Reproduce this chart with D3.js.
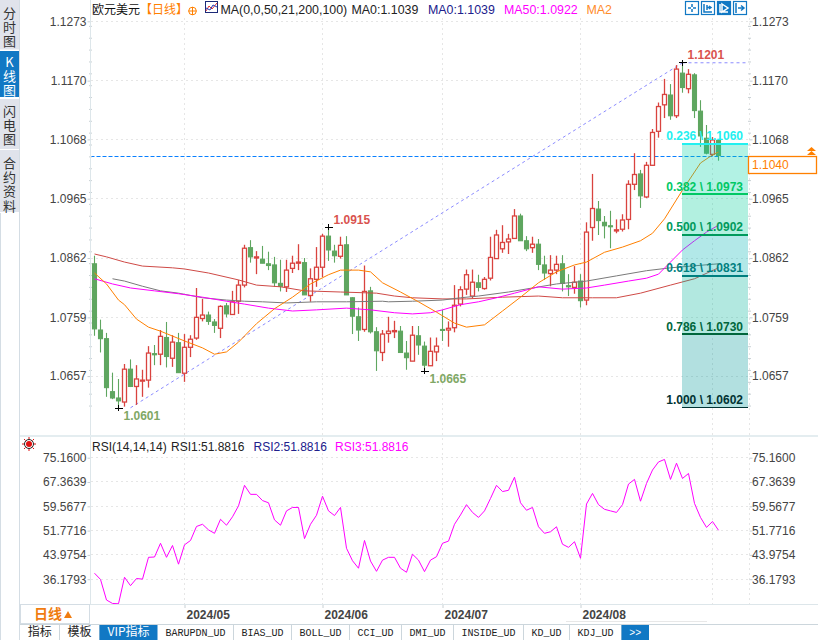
<!DOCTYPE html>
<html>
<head>
<meta charset="utf-8">
<script src="https://cdn.jsdelivr.net/npm/d3@7"></script>
<style>
html, body { margin: 0; padding: 0; background: #fff; }
svg { display: block; }
text { font-family: "Liberation Sans", Arial, sans-serif; font-size: 12px; }
.cjk { font-family: "Noto Sans CJK SC", sans-serif; }
.mono { font-family: "Liberation Mono", monospace; font-size: 10px; }
.side { writing-mode: vertical-rl; text-orientation: upright; letter-spacing: 1.2px; font-size: 13px; }
.axis path { display: none; }
.axis line { stroke: #c8d0d4; }
.axis text { fill: #444; font-size: 12px; }
</style>
</head>
<body>
<svg id="chart" width="818" height="640"></svg>
<script>
const opens = [1.0852,1.0737,1.0722,1.0630,1.0619,1.0612,1.0669,1.0639,1.0649,1.0650,1.0696,1.0695,1.0724,1.0688,1.0715,1.0662,1.0707,1.0723,1.0757,1.0763,1.0751,1.0740,1.0779,1.0764,1.0787,1.0815,1.0880,1.0862,1.0860,1.0852,1.0850,1.0818,1.0812,1.0844,1.0853,1.0854,1.0797,1.0825,1.0846,1.0900,1.0874,1.0865,1.0885,1.0793,1.0760,1.0738,1.0805,1.0734,1.0698,1.0731,1.0734,1.0735,1.0697,1.0683,1.0727,1.0709,1.0675,1.0699,1.0738,1.0737,1.0741,1.0782,1.0808,1.0796,1.0819,1.0809,1.0827,1.0861,1.0878,1.0890,1.0896,1.0935,1.0892,1.0880,1.0886,1.0850,1.0835,1.0841,1.0852,1.0814,1.0811,1.0822,1.0789,1.0915,1.0947,1.0924,1.0918,1.0909,1.0912,1.0929,1.0990,1.1008,1.0968,1.1023,1.1082,1.1128,1.1145,1.1109,1.1183,1.1156,1.1180,1.1117,1.1070,1.1042,1.1066];
const closes = [1.0739,1.0722,1.0637,1.0619,1.0614,1.0669,1.0639,1.0652,1.0650,1.0697,1.0694,1.0726,1.0691,1.0716,1.0663,1.0707,1.0721,1.0759,1.0763,1.0752,1.0745,1.0778,1.0765,1.0786,1.0815,1.0879,1.0864,1.0864,1.0853,1.0849,1.0819,1.0813,1.0841,1.0853,1.0855,1.0798,1.0826,1.0846,1.0900,1.0876,1.0866,1.0884,1.0798,1.0761,1.0737,1.0804,1.0734,1.0701,1.0730,1.0735,1.0736,1.0698,1.0689,1.0728,1.0711,1.0676,1.0700,1.0709,1.0737,1.0740,1.0780,1.0807,1.0833,1.0820,1.0811,1.0825,1.0863,1.0902,1.0889,1.0895,1.0935,1.0892,1.0878,1.0886,1.0851,1.0836,1.0841,1.0851,1.0818,1.0812,1.0820,1.0788,1.0907,1.0948,1.0927,1.0918,1.0917,1.0911,1.0928,1.0990,1.1007,1.0970,1.1023,1.1080,1.1125,1.1146,1.1109,1.1190,1.1158,1.1181,1.1118,1.1074,1.1044,1.1067,1.1040];
const highs = [1.0866,1.0755,1.0732,1.0663,1.0652,1.0678,1.0686,1.0676,1.0668,1.0709,1.0711,1.0737,1.0751,1.0728,1.0732,1.0730,1.0728,1.0810,1.0791,1.0769,1.0756,1.0780,1.0784,1.0805,1.0824,1.0885,1.0893,1.0874,1.0883,1.0873,1.0864,1.0859,1.0859,1.0866,1.0886,1.0862,1.0844,1.0881,1.0904,1.0915,1.0885,1.0899,1.0900,1.0794,1.0776,1.0849,1.0812,1.0742,1.0737,1.0760,1.0753,1.0744,1.0718,1.0744,1.0744,1.0717,1.0724,1.0724,1.0772,1.0752,1.0815,1.0813,1.0842,1.0842,1.0833,1.0829,1.0899,1.0911,1.0919,1.0904,1.0947,1.0939,1.0900,1.0899,1.0895,1.0866,1.0867,1.0866,1.0867,1.0834,1.0848,1.0834,1.0924,1.1008,1.0961,1.0935,1.0944,1.0929,1.0938,1.0997,1.1044,1.1015,1.1029,1.1086,1.1132,1.1173,1.1164,1.1197,1.1201,1.1190,1.1183,1.1136,1.1093,1.1072,1.1068];
const lows = [1.0727,1.0698,1.0621,1.0617,1.0601,1.0604,1.0638,1.0607,1.0621,1.0637,1.0676,1.0676,1.0672,1.0673,1.0663,1.0647,1.0690,1.0720,1.0752,1.0746,1.0732,1.0723,1.0759,1.0764,1.0765,1.0811,1.0854,1.0834,1.0853,1.0841,1.0812,1.0804,1.0803,1.0836,1.0841,1.0798,1.0786,1.0812,1.0829,1.0857,1.0854,1.0861,1.0798,1.0730,1.0718,1.0734,1.0731,1.0666,1.0683,1.0715,1.0723,1.0698,1.0668,1.0683,1.0694,1.0665,1.0675,1.0683,1.0718,1.0708,1.0733,1.0778,1.0798,1.0792,1.0804,1.0807,1.0823,1.0861,1.0871,1.0869,1.0895,1.0892,1.0874,1.0871,1.0841,1.0824,1.0813,1.0834,1.0804,1.0796,1.0800,1.0776,1.0780,1.0892,1.0902,1.0896,1.0879,1.0905,1.0908,1.0912,1.0980,1.0949,1.0966,1.1022,1.1071,1.1105,1.1102,1.1105,1.1149,1.1148,1.1105,1.1055,1.1042,1.1039,1.1031];

// moving averages, read at the candles listed in the *Days arrays
const ma21Days = [0,2,4,5,7,9,11,15,18,20,22,24,27,30,33,36,39,41,44,46,48,51,54,57,60,62,65,68,71,74,77,80,82,85,88,91,93,95,98,101,103,104];
const ma21 = [1.0836,1.0817,1.0789,1.0781,1.0756,1.0742,1.0735,1.0718,1.0706,1.0695,1.0699,1.0716,1.0748,1.0774,1.0794,1.0817,1.0833,1.0841,1.0841,1.0838,1.0819,1.0803,1.0786,1.0768,1.0749,1.0742,1.0746,1.0770,1.0794,1.0819,1.0838,1.0850,1.0855,1.0872,1.0881,1.0892,1.0905,1.0930,1.0980,1.1027,1.1041,1.1046];
const ma50Days = [0,3,6,10,14,18,22,25,29,33,37,42,46,50,53,56,58,61,64,67,70,74,78,82,85,89,92,94,96,98,100,102,104];
const ma50 = [1.0826,1.0817,1.0810,1.0805,1.0800,1.0794,1.0787,1.0782,1.0775,1.0770,1.0772,1.0775,1.0772,1.0767,1.0765,1.0767,1.0772,1.0781,1.0786,1.0793,1.0801,1.0812,1.0808,1.0810,1.0815,1.0822,1.0827,1.0834,1.0855,1.0876,1.0892,1.0907,1.0919];
const ma100Days = [3,5,8,11,14,18,22,25,28,32,37,42,48,49,53,58,61,64,69,73,77,82,87,92,96,104];
const ma100 = [1.0826,1.0822,1.0813,1.0805,1.0801,1.0793,1.0789,1.0787,1.0786,1.0784,1.0786,1.0786,1.0787,1.0786,1.0787,1.0789,1.0793,1.0796,1.0803,1.0810,1.0817,1.0822,1.0831,1.0840,1.0845,1.0852];
const ma200Days = [0,2,5,8,13,15,19,24,27,31,35,41,47,50,53,58,62,68,74,78,83,87,91,96,100,104];
const ma200 = [1.0869,1.0864,1.0855,1.0848,1.0845,1.0843,1.0836,1.0824,1.0815,1.0812,1.0805,1.0803,1.0801,1.0796,1.0793,1.0791,1.0791,1.0794,1.0796,1.0793,1.0793,1.0793,1.0801,1.0815,1.0826,1.0845];

const rsi = [38.1,36.1,29.5,28.4,28.3,36.8,34.1,36.4,36.2,43.2,43.3,47.7,43.2,47.0,41.0,47.2,48.6,53.1,53.8,52.0,50.9,55.4,53.5,56.2,59.7,66.3,63.4,63.4,61.4,60.7,55.2,53.5,58.1,59.2,59.2,49.2,53.8,56.7,62.8,58.1,56.6,59.2,46.1,42.1,39.7,48.6,42.0,38.7,42.3,43.2,43.2,39.7,38.4,44.2,42.3,38.6,42.3,43.4,47.7,48.4,53.8,56.8,60.1,57.6,56.0,58.1,62.1,66.3,64.3,64.7,68.9,60.7,58.3,59.2,53.0,50.9,51.4,53.0,47.4,46.4,48.2,42.9,60.3,63.7,60.1,58.6,58.1,57.6,60.1,66.7,68.2,61.2,66.9,71.2,73.8,74.6,68.2,73.4,68.5,70.1,60.5,56.0,52.8,54.7,51.8816];

const priceTicks = [1.1273,1.1170,1.1068,1.0965,1.0862,1.0759,1.0657];
const rsiTicks = [75.16,67.3639,59.5677,51.7716,43.9754,36.1793];
const monthDays = [15,38,58,81];
const monthLabels = ["2024/05","2024/06","2024/07","2024/08"];
const gridDays = [15,38,58,81,103];
const lastPrice = 1.1040;

const fibRatios = ["0.236","0.382","0.500","0.618","0.786","1.000"];
const fibPrices = [1.1060,1.0973,1.0902,1.0831,1.0730,1.0602];
const fibColors = ["#22f0f0","#00c864","#009a5c","#007f7f","#00663c","#003333"];
const fibBands = ["rgb(0,212,165)","rgb(0,205,152)","rgb(0,178,178)","rgb(0,178,152)","rgb(0,152,152)"];

const pivotDays = [4,39,55,98];
const pivotPrices = [1.0601,1.0915,1.0665,1.1201];
const pivotIsHigh = [false,true,false,true];

const sideTabs = ["分时图","K线图","闪电图","合约资料"];
const bottomTabs = ["指标","模板","VIP指标","BARUPDN_UD","BIAS_UD","BOLL_UD","CCI_UD","DMI_UD","INSIDE_UD","KD_UD","KDJ_UD",">>"];
const bottomEdges = [20,59.5,99.5,157.5,233.5,291.5,349.5,401.5,453.5,523.5,569.5,621.5,649];

const W = 818, left = 90.5, right = 749.5, bottom = 604;
const col = { red: "#d9433f", green: "#5fa660", orange: "#ff8000", magenta: "#ff00ff", grid: "#e6e6e6", text: "#444", navy: "#20208c" };

const svg = d3.select("#chart");

const x = d3.scaleLinear().domain([0, 104]).range([94.5, 718.5]);
const y = d3.scaleLinear().domain([1.0657, 1.1273]).range([376.1, 21.3]);
const yRsi = d3.scaleLinear().domain([36.1793, 75.16]).range([579.2, 457.7]);

// ---- grid
const grid = svg.append("g").attr("stroke", col.grid).attr("stroke-dasharray", "2,3").attr("shape-rendering", "crispEdges");
grid.selectAll(".h").data(priceTicks).join("line").attr("x1", left).attr("x2", right).attr("y1", d => y(d)).attr("y2", d => y(d));
grid.selectAll(".r").data(rsiTicks).join("line").attr("class", "r").attr("x1", left).attr("x2", right).attr("y1", d => yRsi(d)).attr("y2", d => yRsi(d));
grid.selectAll(".v").data(gridDays).join("line").attr("class", "v").attr("x1", d => x(d)).attr("x2", d => x(d)).attr("y1", 18).attr("y2", bottom);
grid.append("line").attr("x1", right).attr("x2", right).attr("y1", 18).attr("y2", bottom);

// ---- current price line and trend line
const trend = svg.append("g").attr("fill", "none").attr("stroke", "#8c8cff").attr("stroke-dasharray", "3,3");
trend.append("line").attr("x1", x(6)).attr("y1", y(fibPrices[5])).attr("x2", x(98)).attr("y2", y(1.1201));
trend.append("line").attr("x1", x(98)).attr("y1", y(1.1201)).attr("x2", 747).attr("y2", y(1.1201));
svg.append("line").attr("x1", left).attr("x2", right).attr("y1", Math.round(y(lastPrice)) + 0.5).attr("y2", Math.round(y(lastPrice)) + 0.5)
	.attr("stroke", "#0a80ff").attr("stroke-dasharray", "4,2");

// ---- candles
const isUp = i => closes[i] >= opens[i];
const candles = svg.append("g");
const days = candles.selectAll("g").data(d3.range(opens.length)).join("g")
	.attr("stroke", i => isUp(i) ? col.red : col.green)
	.attr("stroke-width", i => isUp(i) ? 1.3 : 1.1);
days.append("line").attr("x1", i => x(i)).attr("x2", i => x(i)).attr("y1", i => y(highs[i])).attr("y2", i => y(lows[i]));
days.append("rect")
	.attr("x", i => x(i) - 2)
	.attr("width", 4)
	.attr("y", i => y(Math.max(opens[i], closes[i])))
	.attr("height", i => Math.max(1, Math.abs(y(opens[i]) - y(closes[i]))))
	.attr("fill", i => isUp(i) ? "#fff" : col.green);

// ---- moving averages
const maLine = d3.line().x(d => x(d[0])).y(d => y(d[1]));
const maSeries = [
	[ma200Days, ma200, "#cf4a46"],
	[ma100Days, ma100, "#7a7a7a"],
	[ma50Days, ma50, col.magenta],
	[ma21Days, ma21, col.orange]
];
maSeries.forEach(s => {
	svg.append("path").attr("d", maLine(d3.zip(s[0], s[1]))).attr("fill", "none").attr("stroke", s[2]).attr("stroke-width", 1);
});

// ---- fibonacci bands
const fibX0 = 682, fibX1 = 748;
svg.append("g").selectAll("rect").data(fibBands).join("rect")
	.attr("x", fibX0).attr("width", fibX1 - fibX0)
	.attr("y", (d, i) => y(fibPrices[i]))
	.attr("height", (d, i) => y(fibPrices[i + 1]) - y(fibPrices[i]))
	.attr("fill", d => d).attr("fill-opacity", 0.3);
const fib = svg.append("g").selectAll("g").data(fibPrices).join("g");
fib.append("line").attr("x1", fibX0).attr("x2", fibX1).attr("y1", d => y(d)).attr("y2", d => y(d))
	.attr("stroke", (d, i) => fibColors[i]).attr("stroke-width", 1.3).attr("shape-rendering", "crispEdges");
fib.append("text").attr("x", 743).attr("y", d => y(d) - 3.5).attr("text-anchor", "end")
	.attr("font-weight", "bold").attr("fill", (d, i) => fibColors[i])
	.text((d, i) => fibRatios[i] + " \\ " + d.toFixed(4));

// ---- pivots
const pivots = svg.append("g").selectAll("g").data(pivotDays).join("g");
pivots.append("path")
	.attr("d", (d, i) => `M${x(d) - 4},${y(pivotPrices[i])}h8M${x(d)},${y(pivotPrices[i]) - 3}v6`)
	.attr("stroke", "#000").attr("shape-rendering", "crispEdges");
pivots.append("text")
	.attr("x", d => x(d) + 5)
	.attr("y", (d, i) => y(pivotPrices[i]) + (pivotIsHigh[i] ? -3.5 : 12))
	.attr("font-weight", "bold")
	.attr("fill", (d, i) => pivotIsHigh[i] ? "#d9534f" : "#7fa866")
	.text((d, i) => pivotPrices[i].toFixed(4));

// ---- axes
const fmtPrice = d => d.toFixed(4);
svg.append("g").attr("class", "axis").attr("transform", `translate(${left},0)`)
	.call(d3.axisLeft(y).tickValues(priceTicks).tickSize(3).tickPadding(1).tickFormat(fmtPrice));
svg.append("g").attr("class", "axis").attr("transform", `translate(${right},0)`)
	.call(d3.axisRight(y).tickValues(priceTicks).tickSize(3).tickPadding(-0.5).tickFormat(fmtPrice));
svg.append("g").attr("class", "axis").attr("transform", `translate(${left},0)`)
	.call(d3.axisLeft(yRsi).tickValues(rsiTicks).tickSize(3).tickPadding(1).tickFormat(fmtPrice));
svg.append("g").attr("class", "axis").attr("transform", `translate(${right},0)`)
	.call(d3.axisRight(yRsi).tickValues(rsiTicks).tickSize(3).tickPadding(-0.5).tickFormat(fmtPrice));

// small ticks between the labelled prices
const minorStep = (priceTicks[0] - priceTicks[1]) / 5;
const minorTicks = d3.range(1.0605, 1.1273, minorStep);
[left, right].forEach(px => {
	svg.append("g").attr("stroke", "#c8d0d4").selectAll("line").data(minorTicks).join("line")
		.attr("x1", px - 1.5).attr("x2", px + 1.5).attr("y1", d => y(d)).attr("y2", d => y(d));
});

const xAxis = svg.append("g").attr("class", "axis").attr("transform", `translate(0,${bottom})`)
	.call(d3.axisBottom(x).tickValues(monthDays).tickSize(4).tickPadding(2).tickFormat((d, i) => monthLabels[i]));
xAxis.selectAll("text").attr("text-anchor", "start").attr("dx", 1.5).attr("font-weight", "bold");

// ---- rsi
svg.append("path")
	.attr("d", d3.line().x((d, i) => x(i)).y(d => yRsi(d))(rsi))
	.attr("fill", "none").attr("stroke", col.magenta).attr("stroke-width", 1);

// ---- frame lines
const frame = svg.append("g").attr("shape-rendering", "crispEdges");
frame.append("line").attr("x1", left).attr("x2", left).attr("y1", 0).attr("y2", bottom).attr("stroke", "#dde6ea");
frame.append("line").attr("x1", 20).attr("x2", W).attr("y1", 436).attr("y2", 436).attr("stroke", "#e4edf0").attr("stroke-width", 1.5);
frame.append("line").attr("x1", 20).attr("x2", W).attr("y1", bottom + 0.5).attr("y2", bottom + 0.5).attr("stroke", "#dde6ea");
frame.append("line").attr("x1", 19.5).attr("x2", 19.5).attr("y1", 0).attr("y2", 640).attr("stroke", "#d4dde4");
frame.append("line").attr("x1", 0.5).attr("x2", 0.5).attr("y1", 213).attr("y2", 640).attr("stroke", "#d4dde4");
frame.append("line").attr("x1", 20).attr("x2", W).attr("y1", 624.5).attr("y2", 624.5).attr("stroke", "#ccd6dc");
frame.append("line").attr("x1", 566).attr("x2", 707).attr("y1", 621.5).attr("y2", 621.5).attr("stroke", "#e8e8e8");

// ---- title rows
function rowText(px, py, str, fill, cls) {
	return svg.append("text").attr("x", px).attr("y", py).attr("fill", fill).attr("class", cls || null).text(str);
}
rowText(92, 14, "欧元美元", "#111", "cjk");
rowText(140, 14, "【日线】", col.orange, "cjk");
svg.append("circle").attr("cx", 192.5).attr("cy", 11).attr("r", 3.8).attr("fill", "none").attr("stroke", col.orange);
svg.append("path").attr("d", "M188.5,11h8M192.5,7v8").attr("stroke", col.orange);
svg.append("rect").attr("x", 205.5).attr("y", 1.5).attr("width", 12).attr("height", 11).attr("fill", "#fff").attr("stroke", "#1c2a78");
svg.append("path").attr("d", "M206,11l3,-5l3,3l5,-6").attr("fill", "none").attr("stroke", "#e03030");
svg.append("path").attr("d", "M206,8l4,2l3,-5l4,2").attr("fill", "none").attr("stroke", "#2040c0");
const topRow = [
	rowText(220.5, 14, "MA(0,0,50,21,200,100)", "#222"),
	rowText(351.5, 14, "MA0:1.1039", "#222"),
	rowText(428, 14, "MA0:1.1039", col.navy),
	rowText(504, 14, "MA50:1.0922", col.magenta),
	rowText(586.5, 14, "MA2", "#ff8c2a")
];
topRow.forEach(t => t.style("font-size", "12.4px"));

rowText(92, 451, "RSI(14,14,14)", "#222");
rowText(171, 451, "RSI1:51.8816", "#222");
rowText(253.5, 451, "RSI2:51.8816", col.navy);
rowText(335, 451, "RSI3:51.8816", col.magenta);

// sun icon beside the rsi title
svg.append("circle").attr("cx", 29).attr("cy", 444).attr("r", 3).attr("fill", "#e01010");
svg.append("circle").attr("cx", 29).attr("cy", 444).attr("r", 4.5).attr("fill", "none").attr("stroke", "#222");
svg.append("path").attr("d", "M29,437v2M29,449v2M22,444h2M34,444h2M24,439l1.5,1.5M32.5,447.5l1.5,1.5M34,439l-1.5,1.5M25.5,447.5l-1.5,1.5").attr("stroke", "#e01010");

// ---- last price box
svg.append("rect").attr("x", 748.5).attr("y", 156.5).attr("width", 68).attr("height", 17)
	.attr("fill", "#fff").attr("stroke", col.orange).attr("stroke-width", 1.3);
rowText(752, 169, lastPrice.toFixed(4), col.orange);
svg.append("path").attr("d", "M807,151l4.5,-4l4.5,4zM807,155l4.5,-4l4.5,4z").attr("fill", col.orange);

// ---- toolbar icons
const toolX = [685, 701, 717, 733];
const toolPaths = [
	"M7,3v3M7,8v3M3,7h3M8,7h3",
	"M3,3v8h8M6,4v5M6,6.5h4M8,5l2,1.5l-2,1.5",
	"M3,3v8h8M5,3l6,4l-6,4z",
	"M3,2v10M5,7h6M8,4.5l3,2.5l-3,2.5"
];
toolX.forEach((tx, i) => {
	const on = i === 2;
	const g = svg.append("g").attr("transform", `translate(${tx},1)`);
	g.append("rect").attr("x", 0.5).attr("y", 0.5).attr("width", 13).attr("height", 13)
		.attr("fill", on ? "#1178c4" : "#fff").attr("stroke", "#1178c4").attr("stroke-width", 1.2);
	g.append("path").attr("d", toolPaths[i]).attr("fill", "none").attr("stroke", on ? "#fff" : "#1178c4").attr("stroke-width", 1.5);
});

// ---- left tabs, vertical text
const sideTops = [0, 51, 99, 150];
const sideBottoms = [49.5, 97, 149, 212];
const sideFirst = [6.5, 55.5, 104.5, 156.5];
sideTabs.forEach((name, t) => {
	const active = t === 1;
	svg.append("rect").attr("x", 0).attr("y", sideTops[t]).attr("width", 19).attr("height", sideBottoms[t] - sideTops[t])
		.attr("fill", active ? "#1178c4" : "#e0e3eb");
	svg.append("text").attr("class", "cjk side").attr("x", 9.5).attr("y", sideFirst[t])
		.attr("fill", active ? "#fff" : "#333").text(name);
});

// ---- period button
svg.append("rect").attr("x", 20.5).attr("y", 604.5).attr("width", 69).attr("height", 19).attr("fill", "#fff").attr("stroke", "#d4dde4");
rowText(34, 619, "日线", "#f07c10", "cjk").style("font-size", "14px").attr("font-weight", "bold");
svg.append("path").attr("d", "M64,618l4,-7l4,7z").attr("fill", "#f07c10");

// ---- bottom tabs
bottomTabs.forEach((name, i) => {
	const x0 = bottomEdges[i], x1 = bottomEdges[i + 1];
	const on = name === "VIP指标" || name === ">>";
	const isCjk = i < 3;
	if (on) svg.append("rect").attr("x", x0).attr("y", 625).attr("width", x1 - x0).attr("height", 15).attr("fill", "#1178c4");
	else svg.append("line").attr("x1", x1).attr("x2", x1).attr("y1", 625).attr("y2", 640).attr("stroke", "#ccd6dc");
	svg.append("text").attr("class", isCjk ? "cjk" : "mono")
		.attr("x", (x0 + x1) / 2).attr("y", 636).attr("text-anchor", "middle")
		.attr("fill", on ? "#fff" : "#222").text(name);
});
</script>
</body>
</html>
